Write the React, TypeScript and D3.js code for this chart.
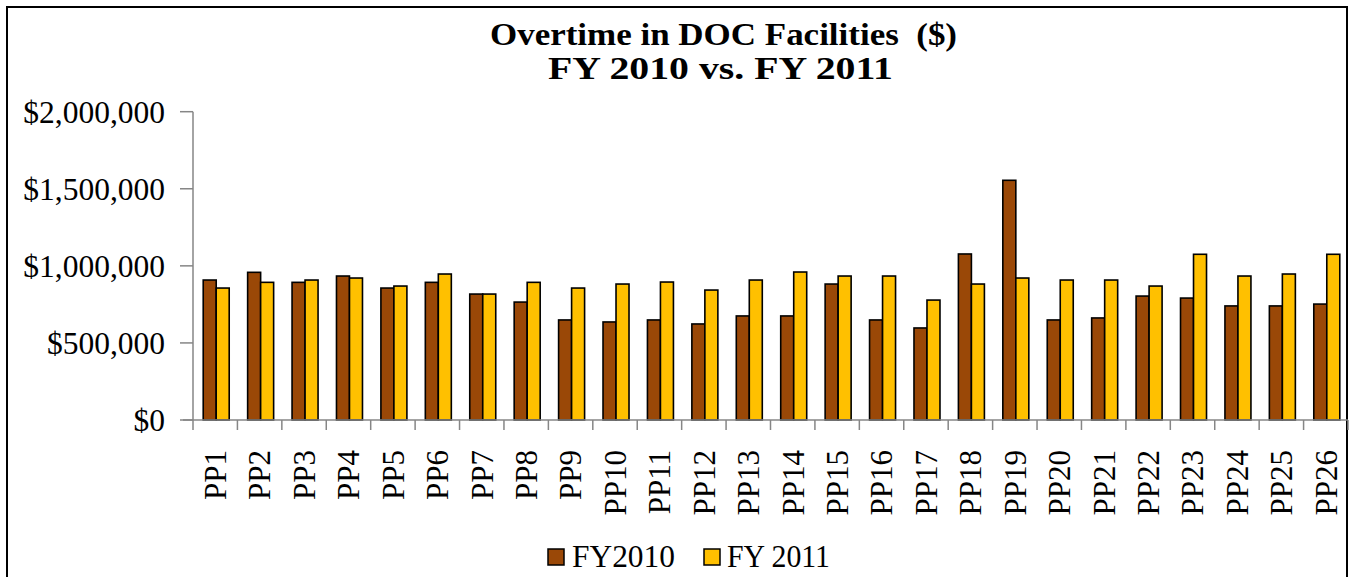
import React from "react";
import * as d3 from "d3";

// pay periods
const periods = [
  "PP1", "PP2", "PP3", "PP4", "PP5", "PP6", "PP7", "PP8", "PP9", "PP10",
  "PP11", "PP12", "PP13", "PP14", "PP15", "PP16", "PP17", "PP18", "PP19", "PP20",
  "PP21", "PP22", "PP23", "PP24", "PP25", "PP26",
];

// overtime dollars
const fy2010 = [
  908000, 958000, 893000, 934000, 856000, 893000, 817000, 765000, 649000, 636000,
  649000, 623000, 675000, 675000, 882000, 649000, 597000, 1077000, 1555000, 649000,
  662000, 804000, 791000, 740000, 740000, 752000,
];
const fy2011 = [
  856000, 893000, 908000, 921000, 869000, 947000, 817000, 893000, 856000, 882000,
  895000, 843000, 908000, 960000, 934000, 934000, 778000, 882000, 921000, 908000,
  908000, 869000, 1075000, 934000, 947000, 1075000,
];
const seriesNames = ["FY2010", "FY 2011"];
const seriesColors = ["#9A4807", "#FFC000"];
const yTicks = [0, 500000, 1000000, 1500000, 2000000];
const titleLines = ["Overtime in DOC Facilities\u00A0 ($)", "FY 2010 vs. FY 2011"];

const W = 1354;
const H = 577;
const FONT = "'Liberation Serif', 'Times New Roman', serif";

export default function App() {
  const left = 193;
  const right = 1348;
  const top = 111.7;
  const bottom = 420;

  const x = d3.scaleBand<string>().domain(periods).range([left, right]).padding(0);
  const y = d3.scaleLinear().domain([0, 2000000]).range([bottom, top]);
  const bw = x.bandwidth();
  const barW = 13;
  const sub = d3.scaleBand<string>()
    .domain(seriesNames)
    .range([(bw - 2 * barW) / 2 + 1, (bw + 2 * barW) / 2 + 1]);

  const fmt = (v: number) => "$" + d3.format(",")(v);
  const data = [fy2010, fy2011];
  const axisColor = "#868686";

  return (
    <svg
      width={W}
      height={H}
      style={{ position: "absolute", left: 0, top: 0, background: "#fff" }}
      fontFamily={FONT}
    >
      <rect x={7} y={7} width={1340} height={620} fill="#fff" stroke="#000" strokeWidth={2} />

      {/* title */}
      <text x={490} y={45} fontSize={32} fontWeight="bold" textLength={467} lengthAdjust="spacingAndGlyphs">
        {titleLines[0]}
      </text>
      <text x={548} y={79} fontSize={32} fontWeight="bold" textLength={345} lengthAdjust="spacingAndGlyphs">
        {titleLines[1]}
      </text>

      {/* y axis */}
      <line x1={left} x2={left} y1={top} y2={bottom} stroke={axisColor} strokeWidth={1.5} />
      {yTicks.map((t) => (
        <g key={t}>
          <line x1={left - 13} x2={left} y1={y(t)} y2={y(t)} stroke={axisColor} strokeWidth={1.5} />
          <text x={165} y={y(t)} dy="0.35em" textAnchor="end" fontSize={31.5}>
            {fmt(t)}
          </text>
        </g>
      ))}

      {/* bars */}
      {periods.map((p, i) => (
        <g key={p} transform={`translate(${x(p)},0)`}>
          {seriesNames.map((s, k) => (
            <rect
              key={s}
              x={sub(s)}
              y={y(data[k][i])}
              width={sub.bandwidth()}
              height={bottom - y(data[k][i])}
              fill={seriesColors[k]}
              stroke="#000"
              strokeWidth={1.6}
            />
          ))}
        </g>
      ))}

      {/* x axis */}
      <line x1={left - 10} x2={right} y1={bottom} y2={bottom} stroke={axisColor} strokeWidth={1.5} />
      {[...periods.map((p) => x(p) as number), right].map((xx, i) => (
        <line key={i} x1={xx} x2={xx} y1={bottom} y2={bottom + 10} stroke={axisColor} strokeWidth={1.5} />
      ))}
      {periods.map((p) => (
        <text
          key={p}
          transform={`translate(${(x(p) as number) + bw / 2},450) rotate(-90)`}
          dy="0.35em"
          textAnchor="end"
          fontSize={31}
        >
          {p}
        </text>
      ))}

      {/* legend */}
      <rect x={548} y={549} width={16} height={16} fill={seriesColors[0]} stroke="#000" strokeWidth={1.5} />
      <text x={572} y={567} fontSize={32} textLength={103} lengthAdjust="spacingAndGlyphs">{seriesNames[0]}</text>
      <rect x={704} y={549} width={16} height={16} fill={seriesColors[1]} stroke="#000" strokeWidth={1.5} />
      <text x={727} y={567} fontSize={32} textLength={103} lengthAdjust="spacingAndGlyphs">{seriesNames[1]}</text>
    </svg>
  );
}
